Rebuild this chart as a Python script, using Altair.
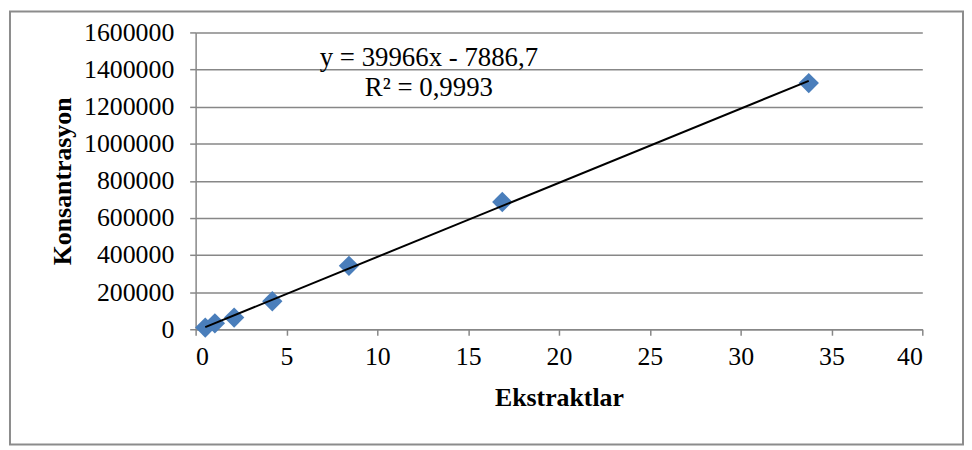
import altair as alt
import pandas as pd

# Data
ekstrakt = [0.53, 1.06, 2.12, 4.22, 8.44, 16.88, 33.75]
konsantrasyon = [9000, 32000, 63000, 151000, 342000, 686000, 1327000]
x_ticks = [0, 5, 10, 15, 20, 25, 30, 35, 40]
y_ticks = [0, 200000, 400000, 600000, 800000, 1000000, 1200000, 1400000, 1600000]
equation_text = ["y = 39966x - 7886,7"]
r2_text = ["R² = 0,9993"]

df = pd.DataFrame({"x": ekstrakt, "y": konsantrasyon})

FONT = "Liberation Serif"
GRAY = "#878787"

x_enc = alt.X("x:Q", scale=alt.Scale(domain=[0, 40], nice=False),
              axis=alt.Axis(title="Ekstraktlar", values=x_ticks, grid=False,
                            tickSize=6, labelPadding=8, titlePadding=16,
                            labelOverlap=False))
y_enc = alt.Y("y:Q", scale=alt.Scale(domain=[0, 1600000], nice=False),
              axis=alt.Axis(title="Konsantrasyon", values=y_ticks, format="d",
                            grid=True, tickSize=6, labelPadding=16, titlePadding=8,
                            labelOverlap=False))

points = alt.Chart(df).mark_point(shape="diamond", filled=True, size=420,
                                  color="#4A7EBB", opacity=1).encode(x=x_enc, y=y_enc)

trend = alt.Chart(df).transform_regression("x", "y").mark_line(
    color="black", strokeWidth=2).encode(x=x_enc, y=y_enc)

eq = alt.Chart(pd.DataFrame({"t": equation_text})).mark_text(
    font=FONT, fontSize=27, color="black", align="center", baseline="middle"
).encode(text="t:N", x=alt.value(235), y=alt.value(26))

r2 = alt.Chart(pd.DataFrame({"t": r2_text})).mark_text(
    font=FONT, fontSize=27, color="black", align="center", baseline="middle"
).encode(text="t:N", x=alt.value(235), y=alt.value(56))

border = alt.Chart(pd.DataFrame({"a": [0]})).mark_rect(
    filled=False, stroke="#8c8c8c", strokeWidth=2
).encode(x=alt.value(-187), x2=alt.value(773), y=alt.value(-21), y2=alt.value(415))

chart = alt.layer(border, points, trend, eq, r2).properties(
    width=732, height=299,
    autosize=alt.AutoSizeParams(type="none"),
    padding={"left": 189, "top": 23, "right": 42, "bottom": 118},
).configure_view(stroke=None).configure_axis(
    gridColor=GRAY, domainColor=GRAY, tickColor=GRAY,
    gridWidth=1.5, domainWidth=1.5, tickWidth=1.5,
    labelFont=FONT, labelFontSize=26, labelColor="black", labelOverlap=False,
    titleFont=FONT, titleFontSize=26, titleFontWeight="bold", titleColor="black",
)

chart.save("out.html", embed_options={"renderer": "svg", "actions": False})
